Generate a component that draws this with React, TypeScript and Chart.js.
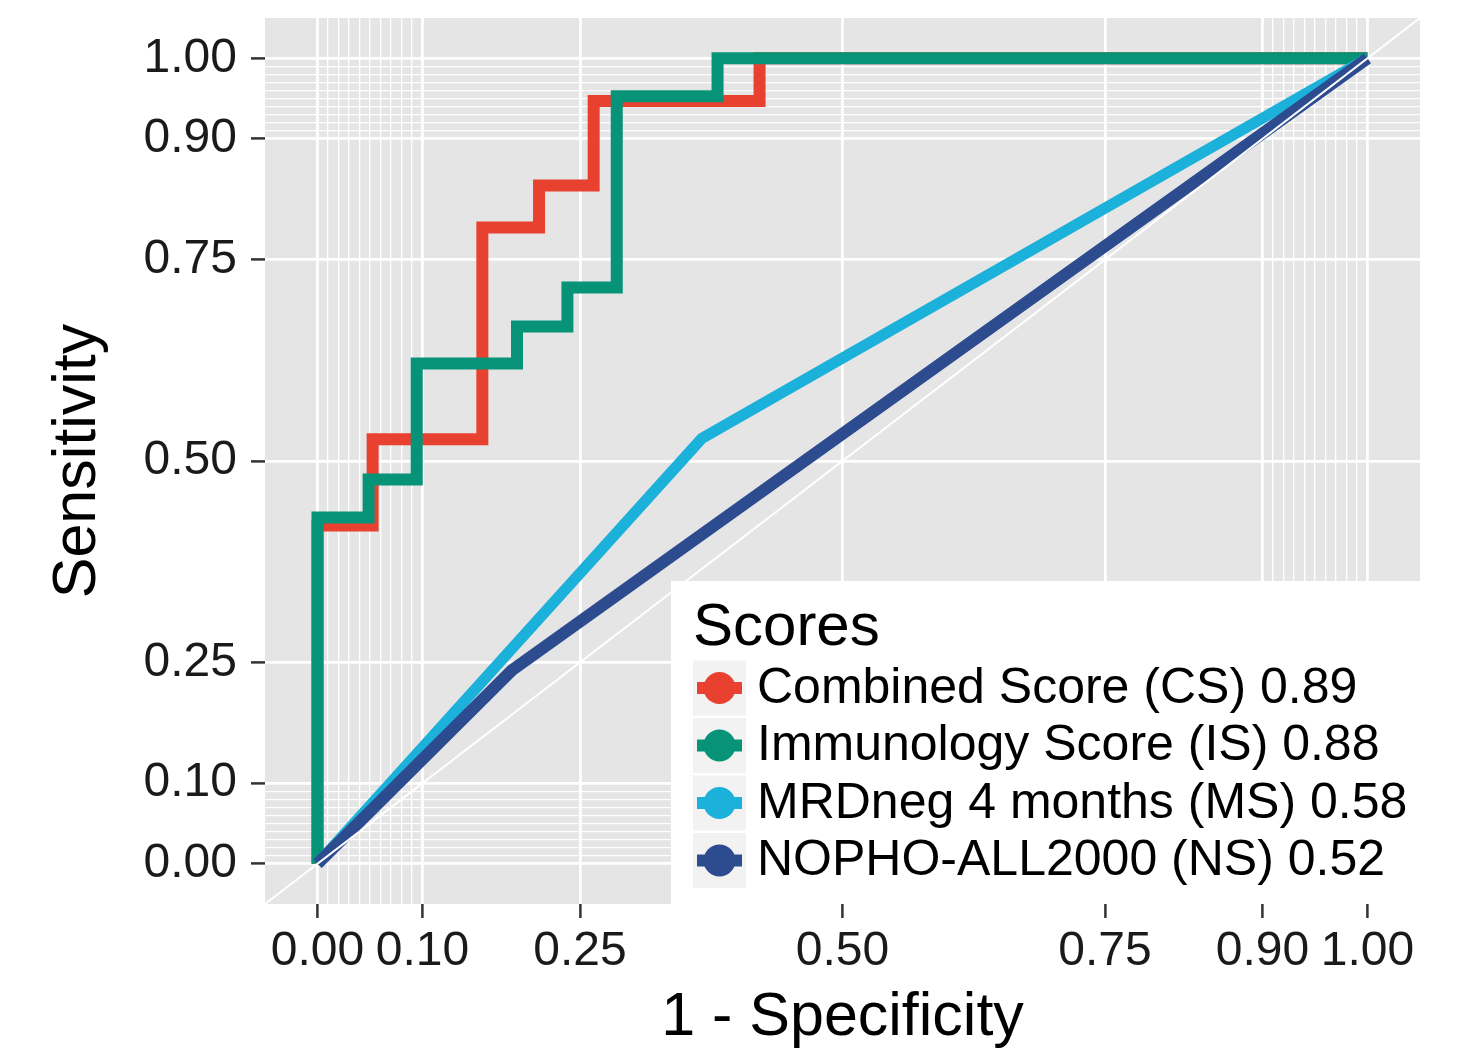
import React, { useEffect, useRef } from "react";
import { Chart, registerables } from "chart.js";

Chart.register(...registerables);

// ---- data ----
const curveLabels = [
  "Combined Score (CS) 0.89",
  "Immunology Score (IS) 0.88",
  "MRDneg 4 months (MS) 0.58",
  "NOPHO-ALL2000 (NS) 0.52",
];
const curveColors = ["#E8412F", "#079378", "#1BB1DA", "#2D4C90"];
const curveWidths = [12, 12, 11, 12];
const legendTitle = "Scores";

// ROC points: 1 - specificity (fpr) and sensitivity (tpr)
const csFpr = [0, 0, 0.0525, 0.157, 0.211, 0.263, 0.421, 1];
const csTpr = [0, 0.42, 0.527, 0.79, 0.842, 0.947, 1.0, 1.0];
const isFpr = [0, 0, 0.0487, 0.0945, 0.19, 0.238, 0.285, 0.381, 1];
const isTpr = [0, 0.43, 0.477, 0.621, 0.667, 0.7155, 0.953, 1.0, 1.0];
const msFpr = [0, 0.366, 1];
const msTpr = [0, 0.528, 1];
const nsFpr = [0, 0.185, 1];
const nsTpr = [0, 0.24, 1];

// reference line y = x across the whole panel
const diagonalValues = [-0.05, 1.05];

// axis breaks
const majorTicks = [0, 0.1, 0.25, 0.5, 0.75, 0.9, 1];
const minorBreaks = [
  0.01, 0.02, 0.03, 0.04, 0.05, 0.06, 0.07, 0.08, 0.09,
  0.91, 0.92, 0.93, 0.94, 0.95, 0.96, 0.97, 0.98, 0.99,
];
const axisMin = -0.05;
const axisMax = 1.05;
const xTitle = "1 - Specificity";
const yTitle = "Sensitivity";

// ---- styling ----
const FONT = '"Liberation Sans", Arial, Helvetica, sans-serif';
const PANEL_BG = "#E5E5E5";

const isMajor = (v: number) => majorTicks.some((m) => Math.abs(m - v) < 1e-9);
const allBreaks = [...majorTicks, ...minorBreaks].sort((a, b) => a - b);

const toPoints = (xs: number[], ys: number[]) => xs.map((x, i) => ({ x, y: ys[i] }));

const gridOptions = {
  display: true,
  drawOnChartArea: true,
  drawTicks: true,
  color: "#FFFFFF",
  lineWidth: (ctx: any) => (ctx.tick && isMajor(ctx.tick.value) ? 2.8 : 1.3),
  tickLength: 14,
  tickColor: "#333333",
  tickWidth: (ctx: any) => (ctx.tick && isMajor(ctx.tick.value) ? 2.5 : 0),
};

const zeroPadding = (scale: any) => {
  scale.paddingTop = 0;
  scale.paddingBottom = 0;
  scale.paddingLeft = 0;
  scale.paddingRight = 0;
};

const panelPlugin = {
  id: "panelBackground",
  beforeDraw(chart: any) {
    const { ctx, chartArea: a } = chart;
    ctx.save();
    ctx.fillStyle = PANEL_BG;
    ctx.fillRect(a.left, a.top, a.right - a.left, a.bottom - a.top);
    ctx.restore();
  },
};

const legendPlugin = {
  id: "scoresLegend",
  afterDraw(chart: any) {
    const { ctx, chartArea: a } = chart;
    const boxLeft = a.left + 406;
    const boxTop = a.top + 563;
    ctx.save();
    ctx.fillStyle = "#FFFFFF";
    ctx.fillRect(boxLeft, boxTop, a.right - boxLeft, a.bottom - boxTop);

    ctx.fillStyle = "#000000";
    ctx.textAlign = "left";
    ctx.textBaseline = "alphabetic";
    ctx.font = `60px ${FONT}`;
    ctx.fillText(legendTitle, boxLeft + 22, boxTop + 64);

    const keyLeft = boxLeft + 22;
    const keyW = 53;
    const keyH = 55;
    const pitch = 57.5;
    const firstCenter = boxTop + 107;
    const datasets = chart.data.datasets.filter((d: any) => d.isCurve);
    datasets.forEach((d: any, i: number) => {
      const cy = firstCenter + i * pitch;
      ctx.fillStyle = "#F2F2F2";
      ctx.fillRect(keyLeft, cy - keyH / 2, keyW, keyH);
      ctx.strokeStyle = d.borderColor;
      ctx.lineWidth = 12;
      ctx.lineCap = "butt";
      ctx.beginPath();
      ctx.moveTo(keyLeft + 4, cy);
      ctx.lineTo(keyLeft + keyW - 4, cy);
      ctx.stroke();
      ctx.fillStyle = d.borderColor;
      ctx.beginPath();
      ctx.arc(keyLeft + keyW / 2, cy, 16, 0, Math.PI * 2);
      ctx.fill();
      ctx.fillStyle = "#000000";
      ctx.font = `50px ${FONT}`;
      ctx.textBaseline = "middle";
      ctx.fillText(d.label, keyLeft + 64, cy + 1);
    });
    ctx.restore();
  },
};

export default function App() {
  const canvasRef = useRef<HTMLCanvasElement>(null);

  useEffect(() => {
    if (!canvasRef.current) return;
    const curves = [
      { fpr: csFpr, tpr: csTpr, stepped: "before" },
      { fpr: isFpr, tpr: isTpr, stepped: "before" },
      { fpr: msFpr, tpr: msTpr, stepped: false },
      { fpr: nsFpr, tpr: nsTpr, stepped: false },
    ];
    const curveDatasets = curves.map((c, i) => ({
      label: curveLabels[i],
      isCurve: true,
      data: toPoints(c.fpr, c.tpr),
      showLine: true,
      stepped: c.stepped as any,
      borderColor: curveColors[i],
      backgroundColor: curveColors[i],
      borderWidth: curveWidths[i],
      borderJoinStyle: "miter" as const,
      borderCapStyle: "butt" as const,
      pointRadius: 0,
      pointHoverRadius: 0,
      fill: false,
      order: 4 - i,
    }));
    const diagonalDataset = {
      label: "",
      isCurve: false,
      data: toPoints(diagonalValues, diagonalValues),
      showLine: true,
      borderColor: "#FFFFFF",
      borderWidth: 2,
      pointRadius: 0,
      fill: false,
      order: 0,
    };

    const axisCommon = (padding: number, title: string, titlePadding: any) => ({
      type: "linear" as const,
      min: axisMin,
      max: axisMax,
      bounds: "data" as const,
      afterBuildTicks: (scale: any) => {
        scale.ticks = allBreaks.map((v) => ({ value: v }));
      },
      ticks: {
        autoSkip: false,
        maxRotation: 0,
        minRotation: 0,
        padding,
        color: "#1A1A1A",
        font: { family: FONT, size: 48 },
        callback: (v: any) => (isMajor(Number(v)) ? Number(v).toFixed(2) : ""),
      },
      grid: gridOptions,
      border: { display: false },
      title: {
        display: true,
        text: title,
        color: "#000000",
        font: { family: FONT, size: 61, lineHeight: 1 },
        padding: titlePadding,
      },
    });

    const chart = new Chart(canvasRef.current, {
      type: "scatter",
      data: { datasets: [...curveDatasets, diagonalDataset] as any },
      options: {
        responsive: false,
        devicePixelRatio: 1,
        animation: false,
        events: [],
        layout: { padding: { left: 0, top: 18, right: 46, bottom: 0 } },
        plugins: {
          legend: { display: false },
          tooltip: { enabled: false },
        },
        scales: {
          x: {
            ...axisCommon(5, xTitle, { top: 0, bottom: 4 }),
            position: "bottom",
            afterFit: (scale: any) => {
              scale.height = 149;
              zeroPadding(scale);
            },
          },
          y: {
            ...axisCommon(14, yTitle, { top: 48, bottom: 0 }),
            position: "left",
            afterFit: (scale: any) => {
              scale.width = 265;
              zeroPadding(scale);
            },
          },
        } as any,
      },
      plugins: [panelPlugin, legendPlugin],
    });
    return () => chart.destroy();
  }, []);

  return (
    <div
      style={{
        position: "absolute",
        left: 0,
        top: 0,
        width: 1466,
        height: 1053,
        background: "#FFFFFF",
      }}
    >
      <canvas
        ref={canvasRef}
        width={1466}
        height={1053}
        style={{ display: "block", width: 1466, height: 1053 }}
      />
    </div>
  );
}
